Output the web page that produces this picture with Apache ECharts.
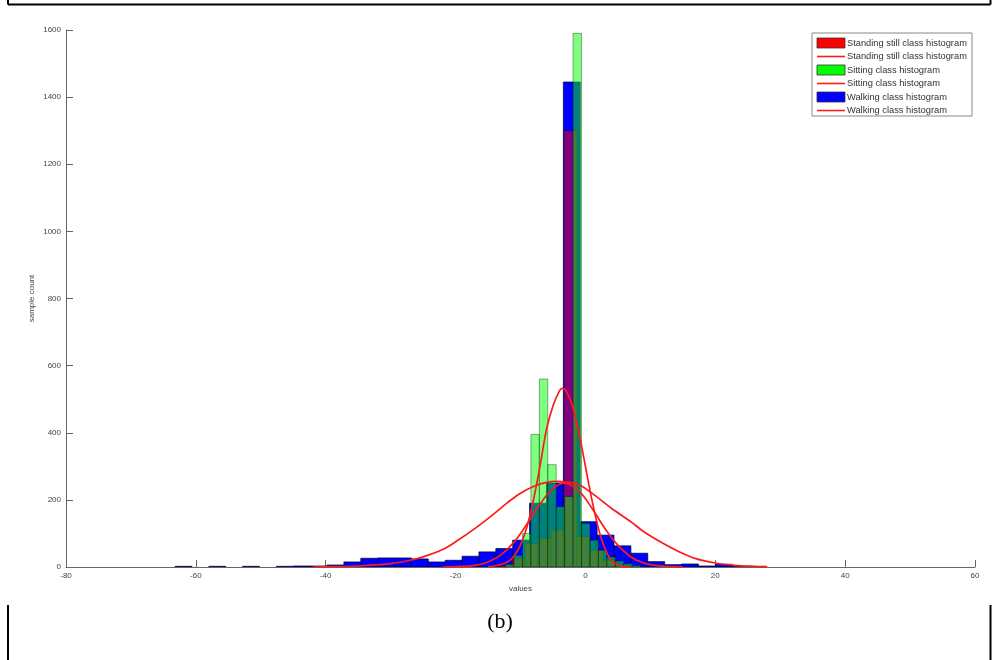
<!DOCTYPE html>
<html>
<head>
<meta charset="utf-8">
<script src="https://cdn.jsdelivr.net/npm/echarts@6/dist/echarts.min.js"></script>
<style>
  html, body { margin: 0; padding: 0; background: #ffffff; }
  #chart { width: 992px; height: 660px; }
</style>
</head>
<body>
<div id="chart"></div>
<script>
// Axis ranges
const xMin = -80, xMax = 60, xStep = 20;
const yMin = 0, yMax = 1600, yStep = 200;

// Walking class histogram: lower bin edges and counts (bin width 2.6)
const walkingWidth = 2.6;
const walkingLower = [-63.2, -58.0, -52.8, -47.6, -45.0, -42.4, -39.8, -37.2, -34.6, -32.0, -29.4, -26.8,
  -24.2, -21.6, -19.0, -16.4, -13.8, -11.2, -8.6, -6.0, -3.4, -0.8, 1.8, 4.4, 7.0, 9.6, 12.2, 14.8, 17.4,
  20.0, 22.6, 25.2];
const walkingCounts = [2, 2, 2, 2, 3, 3, 6, 15, 26, 27, 27, 24,
  15, 20, 32, 45, 55, 80, 190, 250, 1445, 135, 95, 63, 41, 16, 7, 9, 3,
  8, 2, 1];

// Standing still class histogram (bin width 2.0)
const standingWidth = 2.0;
const standingLower = [-13.3, -11.3, -9.3, -7.3, -5.3, -3.3, -1.3, 0.7, 2.7, 4.7];
const standingCounts = [5, 25, 70, 85, 110, 1300, 90, 50, 20, 5];

// Sitting class histogram (bin width 1.3)
const sittingWidth = 1.3;
const sittingLower = [-12.3, -11.0, -9.7, -8.4, -7.1, -5.8, -4.5, -3.2, -1.9, -0.6, 0.7, 2.0, 3.3, 4.6, 5.9, 7.2];
const sittingCounts = [8, 35, 100, 395, 560, 305, 180, 210, 1590, 130, 80, 50, 30, 18, 10, 5];

// Fitted curves: [value, count] points
const standingFitX = [-15, -14, -12, -11, -10, -9, -8, -7, -6, -5, -4, -3.6, -3, -2, -1, 0, 1, 2, 3, 4, 5, 6, 7];
const standingFitY = [1, 3, 15, 33, 65, 120, 200, 300, 410, 480, 525, 532, 525, 480, 400, 300, 200, 115, 55, 20, 6, 1, 0];

const sittingFitX = [-22, -20, -17, -15, -13, -11, -9, -7, -5, -3.2, -1, 1, 3, 5, 7, 9, 11, 13, 15];
const sittingFitY = [0, 1, 5, 15, 36, 74, 128, 187, 234, 250, 227, 175, 115, 65, 30, 12, 4, 1, 0];

const walkingFitX = [-42, -40, -35, -30, -27, -25, -22, -20, -17, -14, -12, -10, -8, -6, -4.5, -3, -1, 1, 4, 7, 9, 12, 14.5, 17, 20, 23, 26, 28];
const walkingFitY = [0, 1, 3, 10, 20, 30, 52, 75, 115, 160, 192, 220, 240, 252, 255, 253, 245, 220, 175, 135, 105, 70, 45, 25, 12, 5, 2, 1];

const legendLabels = [
  'Standing still class histogram', 'Standing still class histogram',
  'Sitting class histogram', 'Sitting class histogram',
  'Walking class histogram', 'Walking class histogram'
];

function bins(lower, counts, width) {
  const out = [];
  for (let i = 0; i < lower.length; i++) {
    if (counts[i] > 0) out.push([lower[i], lower[i] + width, counts[i]]);
  }
  return out;
}
function points(xs, ys) {
  return xs.map((x, i) => [x, ys[i]]);
}

function histSeries(name, data, fill, stroke, z) {
  return {
    type: 'custom',
    name: name,
    z: z,
    clip: true,
    encode: { x: [0, 1], y: 2 },
    data: data,
    renderItem: function (params, api) {
      const a = api.coord([api.value(0), api.value(2)]);
      const b = api.coord([api.value(1), 0]);
      return {
        type: 'rect',
        shape: { x: a[0], y: a[1], width: b[0] - a[0], height: b[1] - a[1] },
        style: { fill: fill, stroke: stroke, lineWidth: 0.8 }
      };
    }
  };
}

function curveSeries(name, data) {
  return {
    type: 'line',
    name: name,
    z: 10,
    data: data,
    smooth: 0.35,
    showSymbol: false,
    symbol: 'none',
    lineStyle: { color: '#ff1a1a', width: 1.7 }
  };
}

const chart = echarts.init(document.getElementById('chart'), null, { renderer: 'canvas' });

const axisFont = { fontFamily: 'Liberation Sans', fontSize: 8, color: '#444' };

// Legend drawn as graphic elements (entries share names in pairs)
const legendX = 812, legendY = 33, legendW = 160, legendH = 83;
const rowStep = 13.5, firstRow = 43;
const legendSwatches = ['#ff0000', null, '#00ff00', null, '#0000ff', null];
const legendGraphics = [{
  type: 'rect',
  shape: { x: legendX, y: legendY, width: legendW, height: legendH },
  style: { fill: '#ffffff', stroke: '#888888', lineWidth: 1 },
  z: 100
}];
legendLabels.forEach((label, i) => {
  const cy = firstRow + i * rowStep;
  if (legendSwatches[i]) {
    legendGraphics.push({
      type: 'rect',
      shape: { x: 817, y: cy - 5, width: 28, height: 10 },
      style: { fill: legendSwatches[i], stroke: '#333333', lineWidth: 0.8 },
      z: 101
    });
  } else {
    legendGraphics.push({
      type: 'line',
      shape: { x1: 817, y1: cy, x2: 845, y2: cy },
      style: { stroke: '#ff1a1a', lineWidth: 1.6 },
      z: 101
    });
  }
  legendGraphics.push({
    type: 'text',
    x: 847, y: cy,
    style: { text: label, fill: '#333333', font: '9.3px "Liberation Sans"', verticalAlign: 'middle', align: 'left' },
    z: 101
  });
});

// Frame lines and caption around the figure
const frameGraphics = [
  { type: 'line', shape: { x1: 8, y1: 4.5, x2: 990.5, y2: 4.5 }, style: { stroke: '#000', lineWidth: 2 } },
  { type: 'line', shape: { x1: 8, y1: 0, x2: 8, y2: 4.5 }, style: { stroke: '#000', lineWidth: 2 } },
  { type: 'line', shape: { x1: 990.5, y1: 0, x2: 990.5, y2: 4.5 }, style: { stroke: '#000', lineWidth: 2 } },
  { type: 'line', shape: { x1: 8, y1: 605, x2: 8, y2: 660 }, style: { stroke: '#000', lineWidth: 2 } },
  { type: 'line', shape: { x1: 990.5, y1: 605, x2: 990.5, y2: 660 }, style: { stroke: '#000', lineWidth: 2 } },
  {
    type: 'text', x: 500, y: 622,
    style: { text: '(b)', fill: '#000', font: '22px "Liberation Serif"', align: 'center', verticalAlign: 'middle' }
  }
];

chart.setOption({
  animation: false,
  backgroundColor: '#ffffff',
  grid: { left: 66, right: 17, top: 30, bottom: 93, containLabel: false },
  xAxis: {
    type: 'value', min: xMin, max: xMax, interval: xStep,
    name: 'values', nameLocation: 'middle', nameGap: 18, nameMoveOverlap: false,
    nameTextStyle: axisFont,
    axisLine: { show: true, onZero: false, lineStyle: { color: '#666', width: 1 } },
    axisTick: { show: true, inside: true, length: 7, lineStyle: { color: '#666' } },
    axisLabel: Object.assign({ margin: 5, formatter: (v) => String(v) }, axisFont),
    splitLine: { show: false }
  },
  yAxis: {
    type: 'value', min: yMin, max: yMax, interval: yStep,
    name: 'sample count', nameLocation: 'middle', nameGap: 30, nameRotate: 90, nameMoveOverlap: false,
    nameTextStyle: axisFont,
    axisLine: { show: true, onZero: false, lineStyle: { color: '#666', width: 1 } },
    axisTick: { show: true, inside: true, length: 7, lineStyle: { color: '#666' } },
    axisLabel: Object.assign({ margin: 5, formatter: (v) => String(v) }, axisFont),
    splitLine: { show: false }
  },
  series: [
    histSeries('Walking class histogram', bins(walkingLower, walkingCounts, walkingWidth), '#0000ff', 'rgba(0,0,40,0.9)', 2),
    histSeries('Standing still class histogram', bins(standingLower, standingCounts, standingWidth), 'rgba(255,0,0,0.5)', 'rgba(0,0,0,0.45)', 3),
    histSeries('Sitting class histogram', bins(sittingLower, sittingCounts, sittingWidth), 'rgba(0,255,0,0.5)', 'rgba(0,0,0,0.45)', 4),
    curveSeries('Standing still fit', points(standingFitX, standingFitY)),
    curveSeries('Sitting fit', points(sittingFitX, sittingFitY)),
    curveSeries('Walking fit', points(walkingFitX, walkingFitY))
  ],
  graphic: frameGraphics.concat(legendGraphics)
});
</script>
</body>
</html>
